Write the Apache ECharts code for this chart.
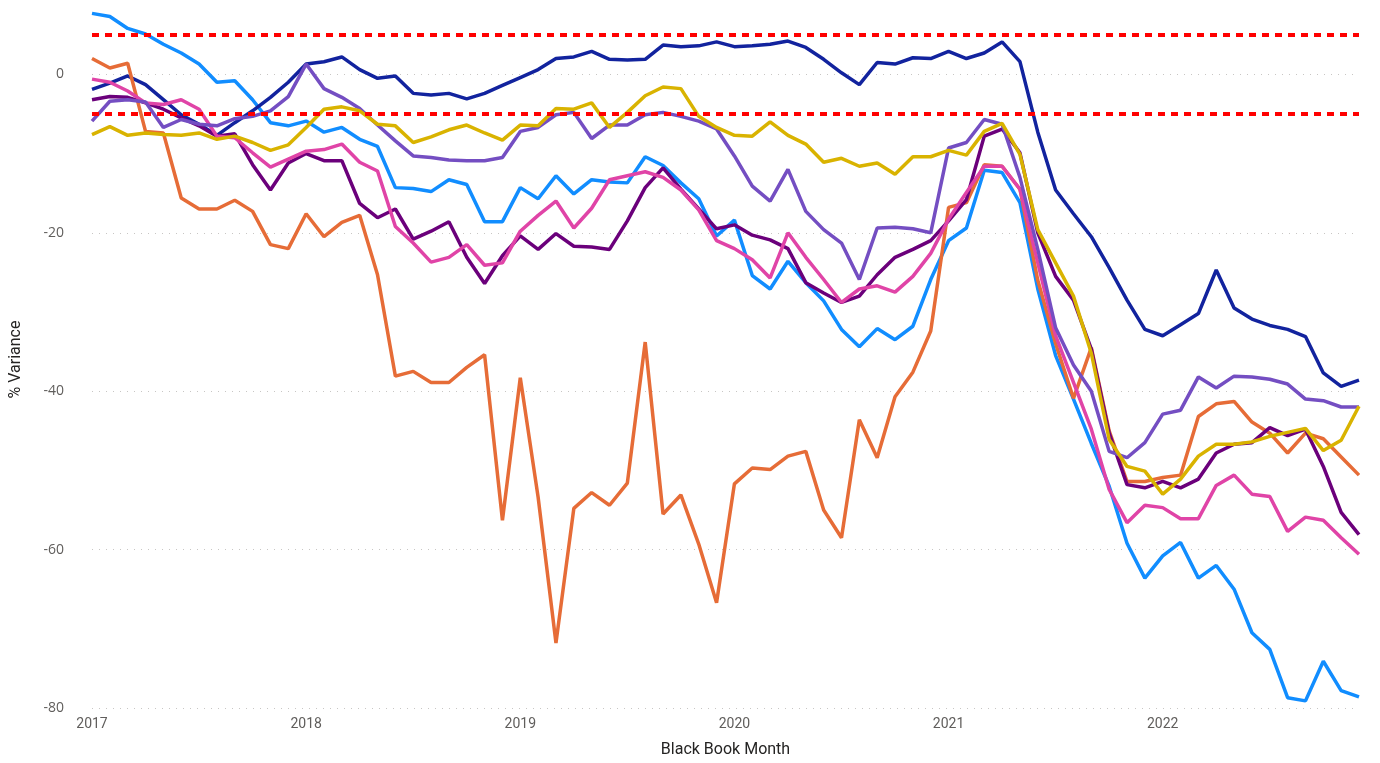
<!DOCTYPE html>
<html>
<head>
<meta charset="utf-8">
<title>% Variance by Black Book Month</title>
<script src="https://cdn.jsdelivr.net/npm/echarts@6/dist/echarts.min.js"></script>
<style>
  html, body { margin: 0; padding: 0; background: #fff; }
  #chart { width: 1380px; height: 763px; }
</style>
</head>
<body>
<div id="chart"></div>
<script>
// years shown on the x axis, one point per month
var years = ["2017", "2018", "2019", "2020", "2021", "2022"];
var months = [];
years.forEach(function (y) {
  for (var m = 1; m <= 12; m++) months.push(y + "-" + (m < 10 ? "0" + m : m));
});

// red reference lines
var thresholds = [5, -5];

var lightBlue = [7.7, 7.3, 5.8, 5.1, 3.8, 2.7, 1.3, -1.0, -0.8, -3.2, -6.1, -6.5,
  -5.9, -7.3, -6.7, -8.2, -9.1, -14.3, -14.4, -14.8, -13.3, -13.9, -18.6, -18.6,
  -14.3, -15.7, -12.8, -15.1, -13.3, -13.6, -13.7, -10.4, -11.5, -13.7, -15.7, -20.4,
  -18.4, -25.4, -27.1, -23.6, -26.3, -28.6, -32.2, -34.4, -32.1, -33.5, -31.8, -25.9,
  -21.0, -19.4, -12.1, -12.4, -16.2, -27.1, -35.5, -41.0, -46.6, -52.0, -59.2, -63.6,
  -60.8, -59.1, -63.6, -62.0, -65.0, -70.5, -72.6, -78.7, -79.1, -74.1, -77.8, -78.6];

var navy = [-1.9, -1.1, -0.2, -1.3, -3.2, -5.1, -6.3, -7.7, -6.1, -4.6, -2.9, -1.0,
  1.3, 1.6, 2.2, 0.6, -0.5, -0.2, -2.4, -2.6, -2.4, -3.1, -2.4, -1.4,
  -0.4, 0.6, 2.0, 2.2, 2.9, 1.9, 1.8, 1.9, 3.7, 3.5, 3.6, 4.1,
  3.5, 3.6, 3.8, 4.2, 3.4, 1.9, 0.2, -1.3, 1.5, 1.3, 2.1, 2.0,
  2.9, 2.0, 2.7, 4.1, 1.6, -7.3, -14.6, -17.6, -20.5, -24.4, -28.5, -32.2,
  -33.0, -31.6, -30.2, -24.7, -29.5, -30.9, -31.7, -32.2, -33.1, -37.7, -39.4, -38.6];

var orange = [2.0, 0.8, 1.4, -7.2, -7.4, -15.6, -17.0, -17.0, -15.9, -17.3, -21.5, -22.0,
  -17.6, -20.5, -18.7, -17.8, -25.3, -38.1, -37.5, -38.9, -38.9, -37.0, -35.4, -56.3,
  -38.3, -53.4, -71.8, -54.8, -52.8, -54.4, -51.6, -33.8, -55.5, -53.1, -59.3, -66.7,
  -51.7, -49.7, -49.9, -48.2, -47.6, -55.0, -58.5, -43.6, -48.4, -40.7, -37.6, -32.4,
  -16.8, -16.2, -11.4, -11.6, -14.5, -26.0, -34.0, -40.9, -34.5, -45.0, -51.4, -51.4,
  -50.9, -50.6, -43.2, -41.6, -41.3, -43.9, -45.3, -47.8, -45.3, -46.0, -48.3, -50.6];

var darkPurple = [-3.2, -2.8, -2.9, -3.6, -4.4, -5.5, -6.5, -7.8, -7.5, -11.4, -14.6, -11.2,
  -10.0, -10.9, -10.9, -16.3, -18.1, -17.0, -20.8, -19.8, -18.6, -23.1, -26.4, -22.9,
  -20.4, -22.1, -20.1, -21.7, -21.8, -22.1, -18.5, -14.3, -11.8, -14.5, -17.0, -19.5,
  -19.0, -20.3, -20.9, -22.0, -26.3, -27.6, -28.8, -28.0, -25.3, -23.1, -22.1, -21.0,
  -18.5, -15.8, -7.8, -6.9, -9.9, -20.0, -25.5, -28.5, -34.7, -45.3, -51.8, -52.2,
  -51.4, -52.2, -51.1, -47.8, -46.7, -46.5, -44.6, -45.6, -44.8, -49.5, -55.3, -58.1];

var pink = [-0.6, -1.0, -2.1, -3.6, -3.8, -3.2, -4.4, -7.8, -8.0, -9.9, -11.7, -10.7,
  -9.7, -9.5, -8.8, -11.1, -12.2, -19.2, -21.3, -23.7, -23.1, -21.5, -24.1, -23.8,
  -19.8, -17.8, -16.0, -19.4, -16.9, -13.3, -12.8, -12.3, -13.0, -14.6, -17.1, -21.0,
  -22.0, -23.4, -25.7, -20.0, -23.1, -25.9, -28.8, -27.1, -26.7, -27.5, -25.5, -22.6,
  -18.3, -14.9, -11.6, -11.6, -14.5, -23.8, -33.0, -38.9, -44.8, -52.4, -56.6, -54.4,
  -54.7, -56.1, -56.1, -51.9, -50.6, -53.0, -53.3, -57.7, -55.9, -56.3, -58.5, -60.6];

var violet = [-5.9, -3.4, -3.2, -3.5, -6.7, -5.7, -6.3, -6.5, -5.6, -5.3, -4.6, -2.8,
  1.3, -1.8, -2.9, -4.3, -6.4, -8.4, -10.3, -10.5, -10.8, -10.9, -10.9, -10.5,
  -7.2, -6.7, -5.1, -4.8, -8.1, -6.4, -6.4, -5.1, -4.8, -5.3, -5.9, -6.9,
  -10.3, -14.1, -16.0, -12.0, -17.3, -19.6, -21.3, -25.9, -19.4, -19.3, -19.5, -20.0,
  -9.3, -8.6, -5.7, -6.3, -13.0, -22.1, -32.0, -36.7, -40.0, -47.6, -48.4, -46.5,
  -42.9, -42.4, -38.2, -39.6, -38.1, -38.2, -38.5, -39.1, -41.0, -41.2, -42.0, -42.0];

var gold = [-7.6, -6.6, -7.7, -7.4, -7.6, -7.7, -7.4, -8.2, -7.8, -8.6, -9.6, -8.9,
  -6.7, -4.4, -4.1, -4.6, -6.3, -6.5, -8.6, -7.9, -7.0, -6.4, -7.4, -8.3,
  -6.4, -6.5, -4.3, -4.4, -3.6, -6.7, -4.8, -2.7, -1.6, -1.8, -5.3, -6.7,
  -7.7, -7.8, -6.0, -7.7, -8.8, -11.1, -10.6, -11.6, -11.2, -12.6, -10.4, -10.4,
  -9.6, -10.2, -7.2, -6.2, -10.1, -19.6, -23.8, -28.0, -35.2, -46.1, -49.5, -50.1,
  -53.0, -51.1, -48.2, -46.7, -46.7, -46.4, -45.7, -45.2, -44.7, -47.5, -46.2, -41.9];

var myChart = echarts.init(document.getElementById("chart"));

function mkLine(name, data, color) {
  return {
    name: name,
    type: "line",
    data: data,
    showSymbol: false,
    symbol: "none",
    lineStyle: { width: 3.5, color: color },
    itemStyle: { color: color }
  };
}

var series = [
  mkLine("A", lightBlue, "#118DFF"),
  mkLine("B", navy, "#12239E"),
  mkLine("C", orange, "#E66C37"),
  mkLine("D", darkPurple, "#6B007B"),
  mkLine("E", pink, "#E044A7"),
  mkLine("F", violet, "#744EC2"),
  mkLine("G", gold, "#D9B300")
];
// the two dashed red limits
series[0].markLine = {
  silent: true,
  symbol: "none",
  label: { show: false },
  lineStyle: { color: "#FF0000", width: 4, type: [7, 6] },
  data: thresholds.map(function (t) { return { yAxis: t }; })
};

var option = {
  animation: false,
  backgroundColor: "#fff",
  grid: { left: 90, right: 21, top: 11, bottom: 55 },
  xAxis: {
    type: "category",
    data: months,
    boundaryGap: false,
    name: "Black Book Month",
    nameLocation: "middle",
    nameGap: 34,
    nameTextStyle: { color: "#252423", fontSize: 16, fontFamily: "Roboto, sans-serif" },
    axisLine: { show: false },
    axisTick: { show: false },
    axisLabel: {
      interval: 11,
      margin: 9,
      color: "#605E5C",
      fontSize: 14,
      fontFamily: "Roboto, sans-serif",
      formatter: function (v) { return v.slice(0, 4); }
    },
    splitLine: { show: false }
  },
  yAxis: {
    type: "value",
    min: -80,
    max: 8,
    interval: 20,
    name: "% Variance",
    nameLocation: "middle",
    nameGap: 68,
    nameTextStyle: { color: "#252423", fontSize: 16, fontFamily: "Roboto, sans-serif" },
    axisLine: { show: false },
    axisTick: { show: false },
    axisLabel: {
      margin: 28,
      color: "#605E5C",
      fontSize: 14,
      fontFamily: "'Open Sans', sans-serif",
      formatter: function (v) { return v % 20 === 0 ? String(v) : ""; }
    },
    splitLine: {
      show: true,
      showMaxLine: false,
      lineStyle: { color: "#C8C6C4", type: [1, 6], width: 1 }
    }
  },
  series: series
};

myChart.setOption(option);
window.addEventListener("resize", function () {
  myChart.resize();
});
</script>
</body>
</html>
